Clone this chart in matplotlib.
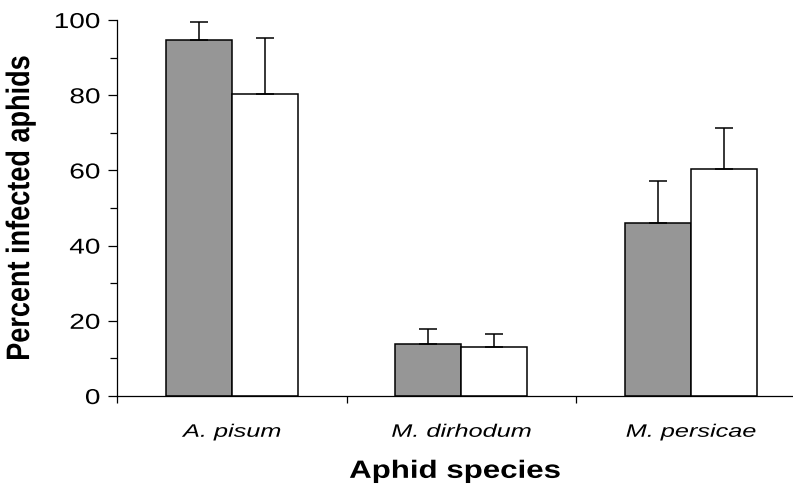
import matplotlib
matplotlib.use("Agg")
import matplotlib.pyplot as plt
import numpy as np
from matplotlib.ticker import MultipleLocator, FixedLocator
from matplotlib.patheffects import AbstractPathEffect
from matplotlib.transforms import Affine2D

plt.rcParams['font.family'] = ['Liberation Sans', 'DejaVu Sans']

species = ["A. pisum", "M. dirhodum", "M. persicae"]
gray_vals = [94.6, 13.8, 45.9]
gray_err = [4.9, 4.0, 11.4]
white_vals = [80.3, 12.9, 60.5]
white_err = [15.0, 3.6, 10.9]


class HStretch(AbstractPathEffect):
    """Stretch rendered text horizontally (display x) about an anchor."""
    def __init__(self, sx, anchor='center'):
        super().__init__()
        self.sx = sx
        self.anchor = anchor

    def draw_path(self, renderer, gc, tpath, affine, rgbFace=None):
        bb = tpath.get_extents(affine)
        if self.anchor == 'right':
            cx = bb.x1
        elif self.anchor == 'left':
            cx = bb.x0
        else:
            cx = 0.5 * (bb.x0 + bb.x1)
        t = affine + Affine2D().translate(-cx, 0).scale(self.sx, 1).translate(cx, 0)
        renderer.draw_path(gc, tpath, t, rgbFace)


fig = plt.figure(figsize=(7.93, 4.88), dpi=100)
ax = fig.add_axes([117/793, 92/488, 1 - 117/793, 376/488])

x = np.arange(len(species))
w = 0.2876
ekw = dict(ecolor='black', elinewidth=1.1, capsize=6.5, capthick=1.1)
ax.bar(x - w/2, gray_vals, w, color='#969696', edgecolor='black', linewidth=1.1,
       yerr=[np.zeros(3), gray_err], error_kw=ekw)
ax.bar(x + w/2, white_vals, w, color='white', edgecolor='black', linewidth=1.1,
       yerr=[np.zeros(3), white_err], error_kw=ekw)

ax.set_xlim(-0.5, 2.445)
ax.set_ylim(0, 100)
ax.spines['top'].set_visible(False)
ax.spines['right'].set_visible(False)
ax.spines['left'].set_linewidth(0.9)
ax.spines['bottom'].set_linewidth(0.9)

ax.set_yticks([0, 20, 40, 60, 80, 100])
ax.yaxis.set_minor_locator(MultipleLocator(10))
ax.tick_params(axis='y', which='major', direction='out', length=6.5, width=0.9, labelsize=15.5, pad=5.5)
ax.tick_params(axis='y', which='minor', direction='out', length=5, width=0.9)

ax.set_xticks(x)
ax.set_xticklabels(species, fontstyle='italic')
ax.xaxis.set_minor_locator(FixedLocator([-0.5, 0.5, 1.5]))
ax.tick_params(axis='x', which='major', length=0, labelsize=13, pad=20)
ax.tick_params(axis='x', which='minor', direction='out', length=5, width=0.9)

ax.set_xlabel("Aphid species", fontsize=18, fontweight='bold', labelpad=13)
ax.set_ylabel("Percent infected aphids", fontsize=19.5, fontweight='bold', labelpad=22)

for lab in ax.get_yticklabels():
    lab.set_path_effects([HStretch(1.3, 'right')])
for lab in ax.get_xticklabels():
    lab.set_path_effects([HStretch(1.4, 'center')])
ax.xaxis.label.set_path_effects([HStretch(1.25, 'center')])
ax.yaxis.label.set_path_effects([HStretch(1.2, 'center')])

fig.savefig("out.png", dpi=100)
